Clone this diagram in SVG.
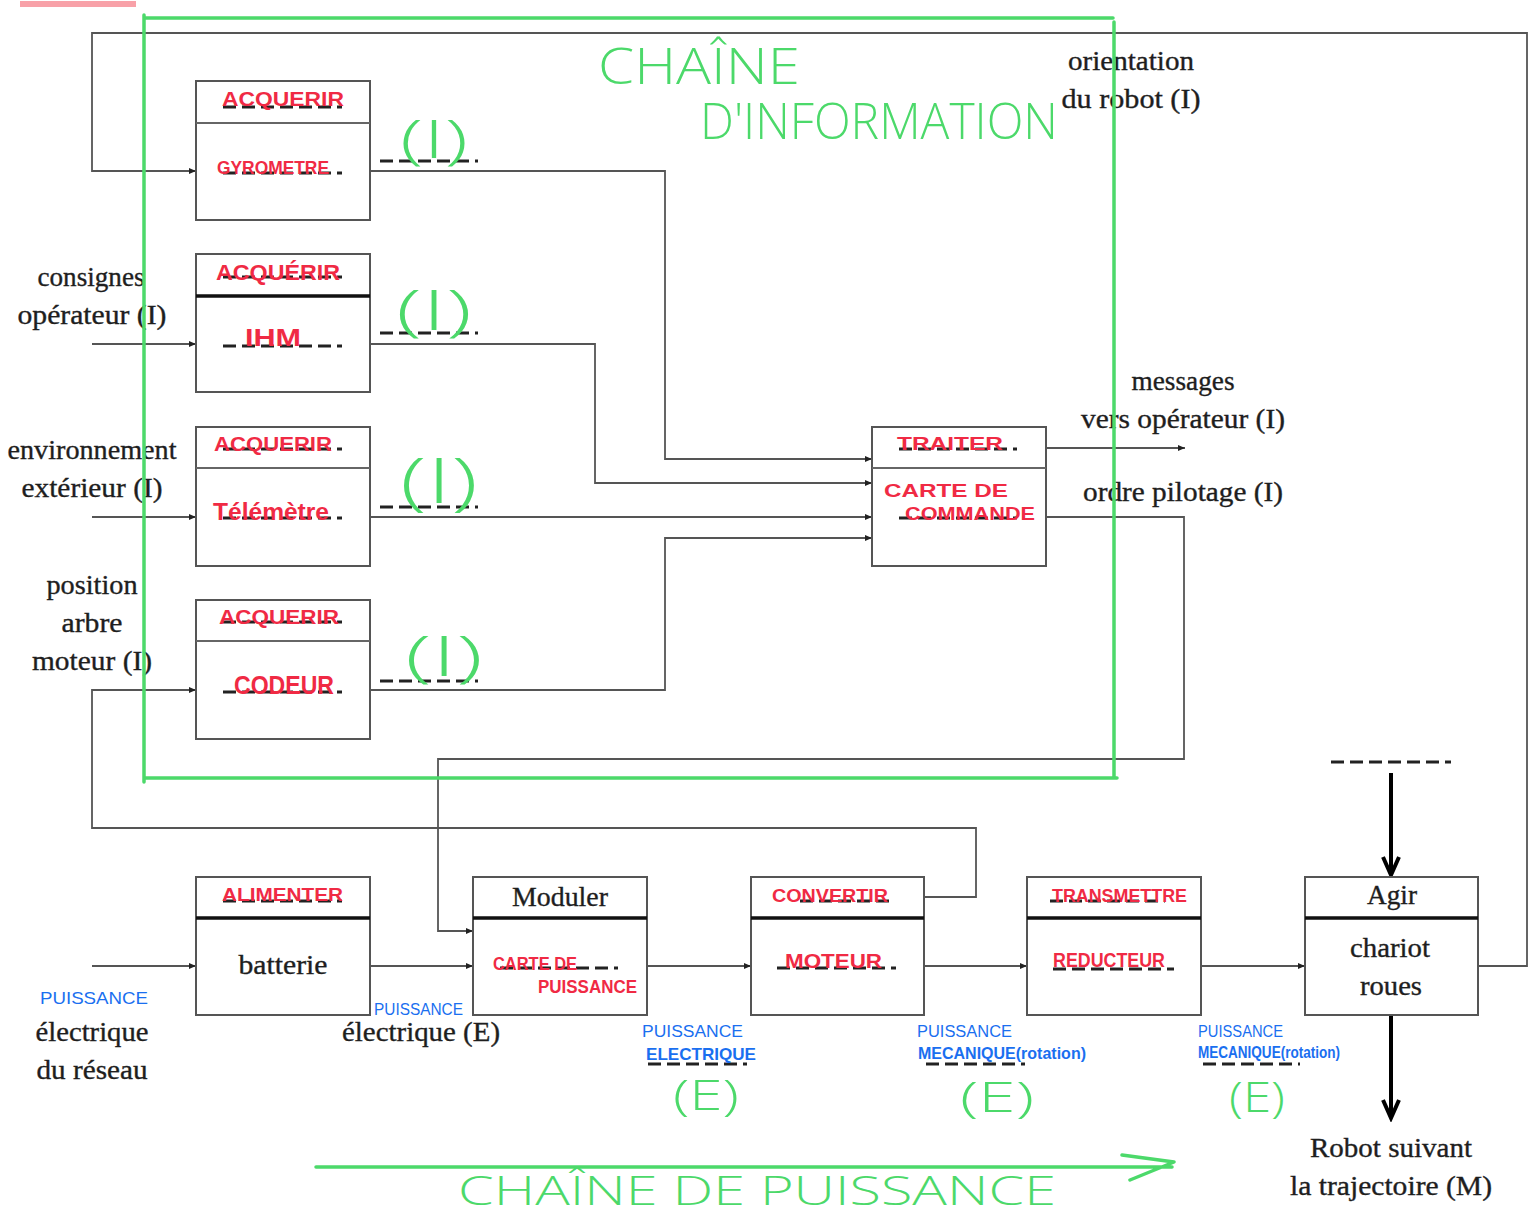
<svg xmlns="http://www.w3.org/2000/svg" width="1528" height="1218" viewBox="0 0 1528 1218">
<style>
.box{fill:#fff;stroke:#555;stroke-width:2}
.dv{stroke:#666;stroke-width:2}
.dk{stroke:#111;stroke-width:3.5}
.ln{fill:none;stroke:#555;stroke-width:1.8}
.thk{fill:none;stroke:#000;stroke-width:4}
.lbl{font-family:"Liberation Serif",serif;font-size:27px;fill:#1e1e1e;stroke:#1e1e1e;stroke-width:0.35;text-anchor:middle}
.red{font-family:"Liberation Sans",sans-serif;font-weight:bold;fill:#f02a44}
.blue{font-family:"Liberation Sans",sans-serif;fill:#1a6ff0}
.blueb{font-family:"Liberation Sans",sans-serif;font-weight:bold;fill:#1a6ff0}
.grn{font-family:"Open Sans","Liberation Sans",sans-serif;font-weight:300;fill:#4cd96a}
.gline{fill:none;stroke:#4cd96a;stroke-width:3.5;stroke-linecap:round;stroke-linejoin:round}
.dash{stroke:#222;stroke-width:3;stroke-dasharray:13 6}
</style>
<defs>
<marker id="ah" markerWidth="8" markerHeight="8" refX="7" refY="4" orient="auto" markerUnits="userSpaceOnUse">
<path d="M0,1 L7,4 L0,7 Z" fill="#222"/>
</marker>
<marker id="ahb" markerWidth="24" markerHeight="20" refX="20" refY="10" orient="auto" markerUnits="userSpaceOnUse">
<path d="M2,2 L20,10 L2,18" fill="none" stroke="#000" stroke-width="4"/>
</marker>
</defs>
<rect width="1528" height="1218" fill="#fff"/>

<!-- red scribble top-left -->
<path d="M20,4 L136,4" stroke="#f03040" stroke-width="6" opacity="0.45"/>

<!-- connectors -->
<g id="connectors">
<path class="ln" d="M1478,966 H1527 V33 H92 V171 H196" marker-end="url(#ah)"/>
<path class="ln" d="M92,344 H196" marker-end="url(#ah)"/>
<path class="ln" d="M92,517 H196" marker-end="url(#ah)"/>
<path class="ln" d="M924,897 H976 V828 H92 V690 H196" marker-end="url(#ah)"/>
<path class="ln" d="M370,171 H665 V459 H872" marker-end="url(#ah)"/>
<path class="ln" d="M370,344 H595 V483 H872" marker-end="url(#ah)"/>
<path class="ln" d="M370,517 H872" marker-end="url(#ah)"/>
<path class="ln" d="M370,690 H665 V538 H872" marker-end="url(#ah)"/>
<path class="ln" d="M1046,448 H1185" marker-end="url(#ah)"/>
<path class="ln" d="M1046,517 H1184 V759 H438 V931 H473" marker-end="url(#ah)"/>
<path class="ln" d="M92,966 H196" marker-end="url(#ah)"/>
<path class="ln" d="M370,966 H473" marker-end="url(#ah)"/>
<path class="ln" d="M647,966 H751" marker-end="url(#ah)"/>
<path class="ln" d="M924,966 H1027" marker-end="url(#ah)"/>
<path class="ln" d="M1201,966 H1305" marker-end="url(#ah)"/>
<path class="thk" d="M1391,773 V875" marker-end="url(#ahb)"/>
<path class="thk" d="M1391,1015 V1118" marker-end="url(#ahb)"/>
</g>

<!-- nodes -->
<g id="acq1">
<rect class="box" x="196" y="81" width="174" height="139"/>
<line class="dv" x1="196" y1="123" x2="370" y2="123"/>
<line class="dash" x1="223" y1="107" x2="342" y2="107"/>
<line class="dash" x1="223" y1="173" x2="342" y2="173"/>
<text class="red" x="222" y="106" font-size="20" textLength="122" lengthAdjust="spacingAndGlyphs">ACQUERIR</text>
<text class="red" x="217" y="174" font-size="19" textLength="112" lengthAdjust="spacingAndGlyphs">GYROMETRE</text>
</g>
<g id="acq2">
<rect class="box" x="196" y="254" width="174" height="138"/>
<line class="dk" x1="196" y1="296" x2="370" y2="296"/>
<line class="dash" x1="223" y1="277" x2="342" y2="277"/>
<line class="dash" x1="223" y1="346" x2="342" y2="346"/>
<text class="red" x="216" y="280" font-size="22" textLength="124" lengthAdjust="spacingAndGlyphs">ACQUÉRIR</text>
<text class="red" x="245" y="346" font-size="24" textLength="56" lengthAdjust="spacingAndGlyphs">IHM</text>
</g>
<g id="acq3">
<rect class="box" x="196" y="427" width="174" height="139"/>
<line class="dv" x1="196" y1="468" x2="370" y2="468"/>
<line class="dash" x1="223" y1="449" x2="342" y2="449"/>
<line class="dash" x1="223" y1="518" x2="342" y2="518"/>
<text class="red" x="214" y="451" font-size="21" textLength="118" lengthAdjust="spacingAndGlyphs">ACQUERIR</text>
<text class="red" x="213" y="520" font-size="23" textLength="116" lengthAdjust="spacingAndGlyphs">Télémètre</text>
</g>
<g id="acq4">
<rect class="box" x="196" y="600" width="174" height="139"/>
<line class="dv" x1="196" y1="641" x2="370" y2="641"/>
<line class="dash" x1="223" y1="622" x2="342" y2="622"/>
<line class="dash" x1="223" y1="692" x2="342" y2="692"/>
<text class="red" x="219" y="624" font-size="21" textLength="120" lengthAdjust="spacingAndGlyphs">ACQUERIR</text>
<text class="red" x="234" y="694" font-size="25" textLength="100" lengthAdjust="spacingAndGlyphs">CODEUR</text>
</g>
<g id="traiter">
<rect class="box" x="872" y="427" width="174" height="139"/>
<line class="dv" x1="872" y1="468" x2="1046" y2="468"/>
<line class="dash" x1="899" y1="449" x2="1017" y2="449"/>
<line class="dash" x1="899" y1="518" x2="1017" y2="518"/>
<text class="red" x="897" y="450" font-size="19" textLength="106" lengthAdjust="spacingAndGlyphs">TRAITER</text>
<text class="red" x="884" y="497" font-size="19" textLength="124" lengthAdjust="spacingAndGlyphs">CARTE  DE</text>
<text class="red" x="905" y="520" font-size="19" textLength="130" lengthAdjust="spacingAndGlyphs">COMMANDE</text>
</g>
<g id="alimenter">
<rect class="box" x="196" y="877" width="174" height="138"/>
<line class="dk" x1="196" y1="918" x2="370" y2="918"/>
<line class="dash" x1="223" y1="901" x2="342" y2="901"/>
<text class="red" x="222" y="901" font-size="18" textLength="121" lengthAdjust="spacingAndGlyphs">ALIMENTER</text>
<text class="lbl" x="283" y="974" textLength="89" lengthAdjust="spacingAndGlyphs">batterie</text>
</g>
<g id="moduler">
<rect class="box" x="473" y="877" width="174" height="138"/>
<line class="dk" x1="473" y1="918" x2="647" y2="918"/>
<line class="dash" x1="500" y1="968" x2="618" y2="968"/>
<text class="lbl" x="560" y="906" textLength="96" lengthAdjust="spacingAndGlyphs">Moduler</text>
<text class="red" x="493" y="970" font-size="19" textLength="84" lengthAdjust="spacingAndGlyphs">CARTE DE</text>
<text class="red" x="538" y="993" font-size="18" textLength="99" lengthAdjust="spacingAndGlyphs">PUISSANCE</text>
</g>
<g id="convertir">
<rect class="box" x="751" y="877" width="173" height="138"/>
<line class="dk" x1="751" y1="918" x2="924" y2="918"/>
<line class="dash" x1="800" y1="901" x2="895" y2="901"/>
<line class="dash" x1="777" y1="968" x2="896" y2="968"/>
<text class="red" x="772" y="902" font-size="18" textLength="116" lengthAdjust="spacingAndGlyphs">CONVERTIR</text>
<text class="red" x="785" y="968" font-size="21" textLength="97" lengthAdjust="spacingAndGlyphs">MOTEUR</text>
</g>
<g id="transmettre">
<rect class="box" x="1027" y="877" width="174" height="138"/>
<line class="dk" x1="1027" y1="918" x2="1201" y2="918"/>
<line class="dash" x1="1050" y1="901" x2="1165" y2="901"/>
<line class="dash" x1="1053" y1="969" x2="1174" y2="969"/>
<text class="red" x="1052" y="902" font-size="18" textLength="135" lengthAdjust="spacingAndGlyphs">TRANSMETTRE</text>
<text class="red" x="1053" y="967" font-size="20" textLength="112" lengthAdjust="spacingAndGlyphs">REDUCTEUR</text>
</g>
<g id="agir">
<rect class="box" x="1305" y="877" width="173" height="138"/>
<line class="dk" x1="1305" y1="918" x2="1478" y2="918"/>
<text class="lbl" x="1392" y="904" textLength="50" lengthAdjust="spacingAndGlyphs">Agir</text>
<text class="lbl" x="1390" y="957" textLength="80" lengthAdjust="spacingAndGlyphs">chariot</text>
<text class="lbl" x="1391" y="995" textLength="62" lengthAdjust="spacingAndGlyphs">roues</text>
</g>
<line class="dash" x1="1331" y1="762" x2="1451" y2="762"/>

<!-- serif labels -->
<g id="labels">
<text class="lbl" x="1131" y="70" textLength="126" lengthAdjust="spacingAndGlyphs">orientation</text>
<text class="lbl" x="1131" y="108" textLength="139" lengthAdjust="spacingAndGlyphs">du robot (I)</text>
<text class="lbl" x="91" y="286" textLength="107" lengthAdjust="spacingAndGlyphs">consignes</text>
<text class="lbl" x="92" y="324" textLength="149" lengthAdjust="spacingAndGlyphs">opérateur (I)</text>
<text class="lbl" x="92" y="459" textLength="169" lengthAdjust="spacingAndGlyphs">environnement</text>
<text class="lbl" x="92" y="497" textLength="141" lengthAdjust="spacingAndGlyphs">extérieur (I)</text>
<text class="lbl" x="92" y="594" textLength="91" lengthAdjust="spacingAndGlyphs">position</text>
<text class="lbl" x="92" y="632" textLength="61" lengthAdjust="spacingAndGlyphs">arbre</text>
<text class="lbl" x="92" y="670" textLength="120" lengthAdjust="spacingAndGlyphs">moteur (I)</text>
<text class="lbl" x="1183" y="390" textLength="103" lengthAdjust="spacingAndGlyphs">messages</text>
<text class="lbl" x="1183" y="428" textLength="204" lengthAdjust="spacingAndGlyphs">vers opérateur (I)</text>
<text class="lbl" x="1183" y="501" textLength="200" lengthAdjust="spacingAndGlyphs">ordre pilotage (I)</text>
<text class="lbl" x="92" y="1041" textLength="113" lengthAdjust="spacingAndGlyphs">électrique</text>
<text class="lbl" x="92" y="1079" textLength="111" lengthAdjust="spacingAndGlyphs">du réseau</text>
<text class="lbl" x="421" y="1041" textLength="158" lengthAdjust="spacingAndGlyphs">électrique (E)</text>
<text class="lbl" x="1391" y="1157" textLength="162" lengthAdjust="spacingAndGlyphs">Robot suivant</text>
<text class="lbl" x="1391" y="1195" textLength="202" lengthAdjust="spacingAndGlyphs">la trajectoire (M)</text>
</g>

<!-- dashed placeholders near (I) / (E) -->
<line class="dash" x1="380" y1="161" x2="478" y2="161"/>
<line class="dash" x1="380" y1="333" x2="478" y2="333"/>
<line class="dash" x1="380" y1="507" x2="478" y2="507"/>
<line class="dash" x1="380" y1="681" x2="478" y2="681"/>
<line class="dash" x1="648" y1="1064" x2="747" y2="1064"/>
<line class="dash" x1="926" y1="1064" x2="1025" y2="1064"/>
<line class="dash" x1="1203" y1="1064" x2="1300" y2="1064"/>

<!-- blue annotations -->
<g id="blue">
<text class="blue" x="40" y="1004" font-size="17" textLength="108" lengthAdjust="spacingAndGlyphs">PUISSANCE</text>
<text class="blue" x="374" y="1015" font-size="16" textLength="89" lengthAdjust="spacingAndGlyphs">PUISSANCE</text>
<text class="blue" x="642" y="1037" font-size="16" textLength="101" lengthAdjust="spacingAndGlyphs">PUISSANCE</text>
<text class="blueb" x="646" y="1060" font-size="17" textLength="110" lengthAdjust="spacingAndGlyphs">ELECTRIQUE</text>
<text class="blue" x="917" y="1037" font-size="16" textLength="95" lengthAdjust="spacingAndGlyphs">PUISSANCE</text>
<text class="blueb" x="918" y="1059" font-size="17" textLength="168" lengthAdjust="spacingAndGlyphs">MECANIQUE(rotation)</text>
<text class="blue" x="1198" y="1037" font-size="16" textLength="85" lengthAdjust="spacingAndGlyphs">PUISSANCE</text>
<text class="blueb" x="1198" y="1058" font-size="16" textLength="142" lengthAdjust="spacingAndGlyphs">MECANIQUE(rotation)</text>
</g>

<!-- green annotations -->
<g id="green">
<path class="gline" d="M144,18 H1113 M1114,22 V778 M144,778 H1117 M144,15 V782"/>
<text class="grn" x="598" y="84" font-size="50" textLength="202" lengthAdjust="spacingAndGlyphs">CHAÎNE</text>
<text class="grn" x="700" y="139" font-size="50" textLength="358" lengthAdjust="spacingAndGlyphs">D'INFORMATION</text>
<text class="grn" x="400" y="158" font-size="54" textLength="68" lengthAdjust="spacingAndGlyphs">(I)</text>
<text class="grn" x="396" y="330" font-size="56" textLength="76" lengthAdjust="spacingAndGlyphs">(I)</text>
<text class="grn" x="400" y="503" font-size="62" textLength="78" lengthAdjust="spacingAndGlyphs">(I)</text>
<text class="grn" x="405" y="676" font-size="56" textLength="78" lengthAdjust="spacingAndGlyphs">(I)</text>
<text class="grn" x="673" y="1110" font-size="42" textLength="66" lengthAdjust="spacingAndGlyphs">(E)</text>
<text class="grn" x="960" y="1112" font-size="42" textLength="74" lengthAdjust="spacingAndGlyphs">(E)</text>
<text class="grn" x="1229" y="1112" font-size="42" textLength="56" lengthAdjust="spacingAndGlyphs">(E)</text>
<path class="gline" d="M316,1167 H1172 M1122,1155 L1174,1162 L1130,1180"/>
<text class="grn" x="458" y="1205" font-size="40" textLength="598" lengthAdjust="spacingAndGlyphs">CHAÎNE  DE  PUISSANCE</text>
</g>
</svg>
